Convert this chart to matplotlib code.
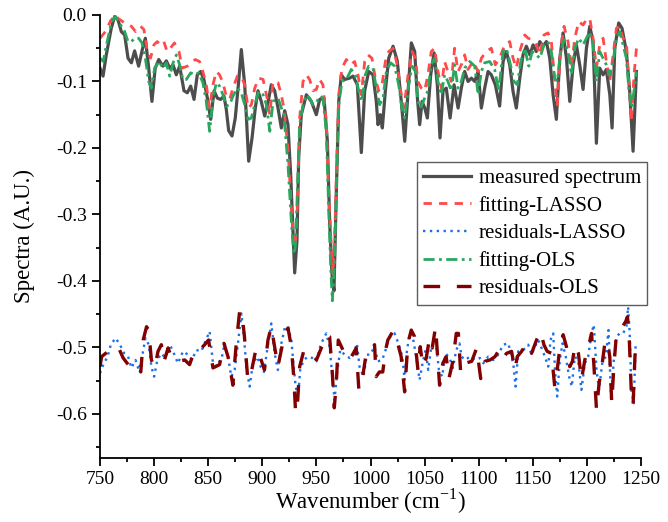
import numpy as np
import matplotlib.pyplot as plt
from matplotlib.ticker import MultipleLocator

plt.rcParams['font.family'] = ['Liberation Serif', 'DejaVu Serif']
plt.rcParams['mathtext.fontset'] = 'custom'
plt.rcParams['mathtext.rm'] = 'Liberation Serif'

# measured spectrum
wn_meas = [750, 752.8, 755.8, 760.4, 763.6, 766.6, 769.7, 772.8, 775.9, 779, 782, 785.7, 789.1, 791.9,
           795, 798, 801, 804.3, 808, 811.3, 814.4, 817.5, 820.5, 823.6, 827.6, 830.7, 833.8, 836.9,
           839.9, 843, 846, 849.2, 852.3, 855.4, 858.4, 861.5, 864.6, 866.7, 868.9, 872, 875, 878.2,
           880.6, 883.7, 887.4, 890.5, 893.5, 896, 899, 902.2, 905.2, 908.3, 911.4, 914.5, 917.6,
           920.7, 923.7, 926.2, 928.4, 929.9, 932, 933.6, 936, 940.7, 945.3, 949.9, 953, 957, 960.1,
           962.3, 964.4, 966.2, 968.4, 970.6, 973, 976.1, 980.7, 983.8, 987.8, 991.5, 994.6, 998.3,
           1002.3, 1005.3, 1006.9, 1009, 1010.9, 1013.7, 1016.8, 1020.8, 1024.7, 1028.4, 1031.6,
           1034.7, 1037.7, 1040.8, 1043.3, 1045.4, 1047.6, 1050.1, 1052.5, 1055.6, 1058.7, 1061.7,
           1064.2, 1067, 1070, 1073.5, 1077.2, 1080.9, 1083.9, 1087, 1090.1, 1093.2, 1096.3, 1099.4,
           1102.4, 1105.5, 1108.6, 1111.6, 1115.3, 1119.3, 1122.5, 1125.5, 1128.6, 1131.7, 1134.7,
           1137.9, 1140.9, 1144, 1147.2, 1150.2, 1153.2, 1156.4, 1159.4, 1162.5, 1165.6, 1168.7,
           1171.7, 1174.9, 1177.9, 1181, 1184.1, 1187.2, 1190.2, 1193.3, 1196.4, 1199.5, 1202.6,
           1205.6, 1207.2, 1208.7, 1211.8, 1214.9, 1217.9, 1221.1, 1223.2, 1225.7, 1229.3, 1232.4,
           1236.4, 1239.5, 1242.6, 1245.7]
measured = [-0.080, -0.092, -0.060, -0.020, -0.002, -0.007, -0.025, -0.030, -0.065, -0.072, -0.054,
            -0.077, -0.052, -0.035, -0.080, -0.130, -0.080, -0.067, -0.077, -0.069, -0.080, -0.075,
            -0.090, -0.077, -0.114, -0.117, -0.107, -0.127, -0.090, -0.085, -0.097, -0.125, -0.157,
            -0.114, -0.125, -0.127, -0.122, -0.142, -0.174, -0.182, -0.155, -0.099, -0.052, -0.105,
            -0.220, -0.185, -0.140, -0.114, -0.130, -0.152, -0.132, -0.105, -0.114, -0.140, -0.170,
            -0.144, -0.165, -0.240, -0.330, -0.388, -0.340, -0.215, -0.150, -0.120, -0.130, -0.150,
            -0.127, -0.125, -0.190, -0.315, -0.390, -0.415, -0.265, -0.130, -0.090, -0.097, -0.095,
            -0.092, -0.105, -0.207, -0.114, -0.085, -0.090, -0.130, -0.165, -0.150, -0.170, -0.114,
            -0.065, -0.047, -0.069, -0.130, -0.190, -0.114, -0.042, -0.055, -0.125, -0.165, -0.130,
            -0.140, -0.155, -0.090, -0.057, -0.105, -0.185, -0.114, -0.110, -0.155, -0.105, -0.140,
            -0.110, -0.085, -0.100, -0.095, -0.100, -0.085, -0.140, -0.110, -0.085, -0.090, -0.105,
            -0.137, -0.070, -0.055, -0.075, -0.115, -0.140, -0.095, -0.060, -0.047, -0.060, -0.045,
            -0.055, -0.040, -0.047, -0.040, -0.065, -0.120, -0.157, -0.065, -0.027, -0.065, -0.130,
            -0.075, -0.045, -0.075, -0.112, -0.050, -0.017, -0.040, -0.115, -0.193, -0.080, -0.090,
            -0.082, -0.120, -0.170, -0.050, -0.012, -0.020, -0.055, -0.115, -0.205, -0.085]

# LASSO fit
wn_lasso = [750, 755, 760, 765, 766.6, 772.8, 779, 782.9, 787.5, 790.6, 793.7, 796.7, 799.8, 802.9,
            806, 809, 812, 815, 818.8, 823, 826, 830.7, 834.3, 838, 842, 845.1, 848.2, 851.3,
            854.4, 857.5, 860.5, 863.6, 866.7, 869.8, 872.9, 876.9, 880.6, 883.7, 886.8, 889.9,
            893, 896.7, 900.7, 903.8, 906.9, 909.9, 914.5, 917.6, 919.9, 923.7, 926.8, 929, 930.5,
            932.3, 934.5, 937.6, 940.7, 943.7, 946.8, 949.9, 953, 956, 959.1, 961.3, 963.8, 965.3,
            966.8, 968.4, 970.6, 973.6, 977.6, 981.6, 985.3, 988.4, 991.5, 994.6, 997.6, 1001.3,
            1004.4, 1007.5, 1010.6, 1013.7, 1016.8, 1020.8, 1024.7, 1027.8, 1030.9, 1034.7, 1038.3,
            1041.4, 1043.8, 1046.9, 1050, 1053, 1056.1, 1059.2, 1062.3, 1065.4, 1068.4, 1071.5,
            1074.6, 1077.7, 1080.8, 1083.9, 1087, 1090, 1094.8, 1099.4, 1102.4, 1107, 1111.6,
            1115.3, 1119.3, 1123.9, 1128.6, 1131.7, 1134.7, 1137.9, 1142.5, 1145.6, 1149.3, 1153.3,
            1156.4, 1160.3, 1164, 1167.1, 1170.2, 1172.6, 1175.7, 1178.8, 1182.5, 1185.6, 1188.7,
            1192.4, 1196.4, 1199.5, 1202.6, 1205.6, 1208.7, 1211.8, 1214.9, 1217.9, 1221.1, 1224.1,
            1227.2, 1230.3, 1233.3, 1236.4, 1238.6, 1241, 1243.5, 1245.7]
lasso_fit = [-0.035, -0.025, -0.008, 0.000, -0.005, -0.012, -0.017, -0.025, -0.017, -0.022, -0.055,
             -0.065, -0.045, -0.040, -0.045, -0.040, -0.055, -0.050, -0.042, -0.055, -0.080, -0.077,
             -0.072, -0.067, -0.070, -0.085, -0.105, -0.140, -0.105, -0.085, -0.090, -0.102, -0.122,
             -0.127, -0.110, -0.092, -0.092, -0.105, -0.140, -0.135, -0.110, -0.095, -0.097, -0.120,
             -0.150, -0.100, -0.102, -0.120, -0.140, -0.200, -0.290, -0.340, -0.350, -0.290, -0.155,
             -0.100, -0.090, -0.097, -0.114, -0.112, -0.097, -0.105, -0.160, -0.265, -0.350, -0.390,
             -0.340, -0.240, -0.120, -0.080, -0.067, -0.075, -0.070, -0.090, -0.120, -0.070, -0.060,
             -0.065, -0.095, -0.114, -0.105, -0.070, -0.055, -0.050, -0.075, -0.114, -0.140, -0.090,
             -0.055, -0.065, -0.100, -0.110, -0.114, -0.090, -0.055, -0.050, -0.085, -0.110, -0.070,
             -0.085, -0.100, -0.050, -0.085, -0.075, -0.060, -0.082, -0.070, -0.085, -0.065, -0.055,
             -0.050, -0.075, -0.065, -0.045, -0.040, -0.065, -0.080, -0.055, -0.030, -0.035, -0.037,
             -0.045, -0.060, -0.030, -0.027, -0.040, -0.100, -0.135, -0.050, -0.017, -0.040, -0.080,
             -0.035, -0.010, -0.015, -0.007, -0.005, -0.035, -0.080, -0.045, -0.035, -0.070, -0.100,
             -0.060, -0.020, -0.017, -0.035, -0.040, -0.100, -0.160, -0.090, -0.050]

# OLS fit
wn_ols = [750, 753, 756, 760.4, 764, 768, 772.8, 775.9, 779, 782, 785.7, 788.8, 791.9, 795, 797.4,
          800.5, 804.3, 808.3, 811.3, 814.4, 817.5, 820.6, 823.6, 826.6, 829.8, 833.8, 837.5, 841.2,
          845.1, 848.2, 851.3, 854.4, 857.5, 860.5, 863.6, 866.7, 869.8, 872.9, 876.9, 880.6, 883.7,
          886.8, 889.9, 893, 896.7, 900.7, 903.8, 906.9, 909.9, 914.5, 917.6, 919.9, 923.7, 926.8,
          929, 930.5, 932.3, 934.5, 937.6, 940.7, 943.7, 946.8, 949.9, 953, 956, 959.1, 961.3, 963.2,
          964.7, 966.8, 968.7, 970.6, 973.6, 977.6, 982.2, 985.9, 989, 992.1, 995.2, 998.2, 1002.3,
          1005.3, 1008.4, 1011.5, 1014.6, 1018.6, 1022.3, 1026, 1029, 1031.6, 1035.3, 1038.3, 1041.4,
          1043.8, 1046.3, 1050, 1053, 1056.1, 1059.2, 1062.3, 1065.4, 1068.4, 1071.5, 1074.6, 1077.7,
          1080.8, 1083.9, 1087, 1091.7, 1096.3, 1099.4, 1102.4, 1105.5, 1110.1, 1114.7, 1118.4,
          1122.5, 1125.5, 1128.6, 1132.6, 1135.7, 1138.8, 1142.5, 1146.2, 1149.3, 1153.3, 1156.4,
          1160.3, 1164, 1167.1, 1170.2, 1172.6, 1175.7, 1178.8, 1182.5, 1185.6, 1188.7, 1192.4,
          1196.4, 1199.5, 1202.6, 1205.6, 1208.7, 1211.8, 1214.9, 1217.9, 1221.1, 1224.1, 1227.2,
          1230.3, 1233.3, 1236.4, 1238.6, 1241, 1243.5, 1245.7]
ols_fit = [-0.065, -0.070, -0.045, -0.012, -0.002, -0.012, -0.025, -0.040, -0.040, -0.035, -0.035,
           -0.042, -0.065, -0.100, -0.110, -0.080, -0.070, -0.080, -0.072, -0.092, -0.072, -0.060,
           -0.075, -0.097, -0.097, -0.087, -0.090, -0.087, -0.102, -0.130, -0.175, -0.125, -0.102,
           -0.107, -0.120, -0.137, -0.135, -0.122, -0.110, -0.117, -0.135, -0.157, -0.155, -0.135,
           -0.115, -0.120, -0.135, -0.175, -0.130, -0.125, -0.140, -0.150, -0.225, -0.310, -0.360,
           -0.350, -0.270, -0.165, -0.135, -0.120, -0.125, -0.135, -0.132, -0.122, -0.125, -0.175,
           -0.290, -0.380, -0.430, -0.370, -0.240, -0.135, -0.100, -0.097, -0.082, -0.090, -0.114,
           -0.130, -0.090, -0.077, -0.080, -0.110, -0.135, -0.125, -0.085, -0.072, -0.077, -0.105,
           -0.140, -0.155, -0.105, -0.077, -0.085, -0.130, -0.140, -0.125, -0.114, -0.075, -0.065,
           -0.100, -0.120, -0.090, -0.100, -0.114, -0.075, -0.110, -0.100, -0.080, -0.070, -0.077,
           -0.120, -0.085, -0.072, -0.070, -0.082, -0.114, -0.055, -0.050, -0.070, -0.100, -0.105,
           -0.070, -0.050, -0.077, -0.055, -0.060, -0.065, -0.045, -0.040, -0.055, -0.095, -0.100,
           -0.055, -0.037, -0.055, -0.090, -0.050, -0.035, -0.045, -0.035, -0.025, -0.045, -0.100,
           -0.055, -0.065, -0.075, -0.090, -0.070, -0.035, -0.025, -0.045, -0.065, -0.110, -0.140,
           -0.114, -0.085]

# LASSO residuals (offset by -0.5)
wn_res_lasso = [750, 753, 757, 760, 764.4, 768.4, 772.4, 776, 779, 782.8, 785.8, 788.9, 792, 795,
                797.5, 800, 803, 806.7, 810.4, 814.4, 817.5, 822, 826.7, 831.3, 835, 839, 843.6,
                846.7, 851.3, 854.4, 858.4, 862.7, 865.2, 868.3, 871.3, 874.4, 877.5, 880.6, 883,
                885.5, 888.3, 891.3, 895.3, 898.4, 901.5, 905.2, 908.3, 911.4, 914.4, 917.6, 920.7,
                923.7, 926.8, 929, 930.8, 933, 935, 938.2, 942.2, 946.2, 950, 953, 956, 959.1,
                962.2, 964.7, 966.8, 969, 972, 976, 980.6, 984.3, 987.4, 989.8, 993.5, 996.6,
                999.7, 1003.7, 1006.8, 1010.8, 1013.9, 1017, 1022.2, 1026.2, 1029.3, 1031.5,
                1033.6, 1036.1, 1039.2, 1042.2, 1045.3, 1048.4, 1050.9, 1053.3, 1056.1, 1060.1,
                1063.2, 1066.2, 1069.3, 1073, 1076.1, 1079.2, 1082.2, 1084.2, 1087.3, 1091.9,
                1096.5, 1101.1, 1104.2, 1108.8, 1113.5, 1118, 1122.6, 1127.3, 1131.9, 1134,
                1136.5, 1141.1, 1145.7, 1148.8, 1151.9, 1154.9, 1158, 1161.1, 1164.2, 1166.3,
                1168.8, 1170.6, 1172.5, 1174.9, 1177.4, 1180.4, 1183.5, 1186, 1188.7, 1191.8,
                1194.9, 1198, 1201.1, 1204.2, 1206.3, 1208.8, 1211.2, 1214.3, 1217.4, 1219.9,
                1222.3, 1224.8, 1227.2, 1230.3, 1233.4, 1236.5, 1238, 1239.5, 1241, 1243.2, 1245]
res_lasso = [-0.539, -0.526, -0.514, -0.496, -0.486, -0.496, -0.509, -0.514, -0.531, -0.519,
             -0.534, -0.514, -0.486, -0.496, -0.529, -0.544, -0.519, -0.509, -0.516, -0.496,
             -0.506, -0.524, -0.506, -0.511, -0.519, -0.504, -0.506, -0.494, -0.476, -0.524,
             -0.529, -0.514, -0.494, -0.514, -0.544, -0.534, -0.494, -0.449, -0.484, -0.534,
             -0.559, -0.524, -0.514, -0.529, -0.537, -0.496, -0.464, -0.509, -0.534, -0.494,
             -0.471, -0.468, -0.489, -0.529, -0.559, -0.574, -0.534, -0.519, -0.514, -0.516,
             -0.521, -0.501, -0.489, -0.479, -0.499, -0.544, -0.579, -0.539, -0.504, -0.511,
             -0.516, -0.511, -0.494, -0.529, -0.544, -0.511, -0.511, -0.499, -0.521, -0.519,
             -0.504, -0.486, -0.479, -0.496, -0.514, -0.549, -0.506, -0.479, -0.486, -0.514,
             -0.549, -0.521, -0.504, -0.534, -0.499, -0.489, -0.534, -0.544, -0.509, -0.516,
             -0.531, -0.504, -0.494, -0.514, -0.519, -0.514, -0.519, -0.516, -0.524, -0.514,
             -0.519, -0.511, -0.496, -0.494, -0.524, -0.559, -0.506, -0.504, -0.496, -0.511,
             -0.499, -0.489, -0.501, -0.514, -0.529, -0.489, -0.479, -0.539, -0.574, -0.519,
             -0.494, -0.514, -0.544, -0.559, -0.514, -0.519, -0.564, -0.524, -0.514, -0.479,
             -0.466, -0.534, -0.564, -0.521, -0.514, -0.474, -0.579, -0.519, -0.484, -0.479,
             -0.479, -0.469, -0.439, -0.479, -0.564, -0.584, -0.494]

# OLS residuals (offset by -0.5)
wn_res_ols = [750, 751.5, 759, 766.7, 771.4, 777.5, 783.6, 787.7, 789.9, 793, 795, 797.5, 800.6,
              803.6, 806.7, 809.2, 812.9, 816, 822, 828.3, 832.8, 837.5, 842, 846.7, 850.3, 854.4,
              860.5, 864.5, 868.3, 872.8, 875.9, 879, 881, 883.5, 886.6, 889.6, 894.3, 898.3, 902,
              905.2, 908.3, 911.4, 914.4, 917.6, 920.7, 923.7, 926.8, 929, 930.8, 932.7, 934.5,
              938.2, 943.7, 950, 954.5, 959.1, 962.2, 964.7, 966.5, 968.4, 970.2, 974.5, 980.6,
              986.8, 989.2, 992.3, 996, 1000.6, 1003.7, 1005.2, 1008.2, 1011.3, 1013.9, 1016,
              1020.6, 1024.3, 1028.3, 1031.5, 1034.5, 1037.6, 1040.7, 1043.8, 1045.9, 1048.4,
              1051.5, 1054.5, 1057, 1060.1, 1063.8, 1066.8, 1069.9, 1072.4, 1076.1, 1079.2,
              1081.2, 1083.3, 1087.3, 1093.5, 1098.1, 1101.8, 1105.8, 1110.4, 1115, 1118, 1121.1,
              1125.7, 1130.3, 1133.4, 1135.6, 1139.6, 1144.2, 1148.8, 1153.4, 1157.1, 1160.2,
              1163.2, 1167.2, 1170.2, 1172.5, 1174.9, 1178, 1181, 1184.1, 1186.6, 1189, 1192.1,
              1194.9, 1198, 1201.1, 1204.2, 1206.3, 1208.8, 1211.2, 1213.7, 1216.5, 1218.6,
              1221.1, 1222.9, 1224.8, 1227.2, 1229.7, 1232.8, 1235.8, 1237.4, 1238.9, 1241,
              1242.6, 1244.8]
res_ols = [-0.529, -0.514, -0.504, -0.499, -0.516, -0.529, -0.526, -0.537, -0.489, -0.469, -0.474,
           -0.519, -0.531, -0.506, -0.496, -0.521, -0.501, -0.514, -0.521, -0.519, -0.526, -0.504,
           -0.504, -0.496, -0.489, -0.531, -0.526, -0.494, -0.514, -0.557, -0.494, -0.446, -0.446,
           -0.484, -0.549, -0.539, -0.501, -0.516, -0.534, -0.489, -0.469, -0.499, -0.529, -0.504,
           -0.479, -0.471, -0.499, -0.544, -0.599, -0.579, -0.529, -0.506, -0.504, -0.519, -0.501,
           -0.481, -0.484, -0.539, -0.591, -0.554, -0.489, -0.504, -0.519, -0.501, -0.564, -0.549,
           -0.509, -0.506, -0.496, -0.544, -0.537, -0.537, -0.504, -0.489, -0.476, -0.489, -0.514,
           -0.567, -0.494, -0.474, -0.484, -0.534, -0.499, -0.529, -0.516, -0.486, -0.501, -0.469,
           -0.557, -0.524, -0.514, -0.547, -0.521, -0.479, -0.479, -0.539, -0.524, -0.521, -0.501,
           -0.547, -0.521, -0.519, -0.514, -0.506, -0.519, -0.509, -0.506, -0.534, -0.514, -0.506,
           -0.494, -0.509, -0.489, -0.476, -0.496, -0.506, -0.509, -0.559, -0.534, -0.501, -0.481,
           -0.499, -0.529, -0.521, -0.496, -0.509, -0.549, -0.519, -0.501, -0.479, -0.524, -0.594,
           -0.554, -0.529, -0.494, -0.489, -0.514, -0.584, -0.529, -0.481, -0.476, -0.469, -0.461,
           -0.454, -0.479, -0.569, -0.587, -0.494]

fig = plt.figure(figsize=(6.68, 5.22), dpi=100)
ax = fig.add_axes([0.1497, 0.1232, 0.81, 0.8481])

ax.plot(wn_meas, measured, color='#4d4d4d', lw=2.3, label='measured spectrum')
ax.plot(wn_lasso, lasso_fit, color='#ff4a4a', lw=2.0, dashes=(3, 2.6), label='fitting-LASSO')
ax.plot(wn_res_lasso, res_lasso, color='#1c6fe6', lw=1.7, dashes=(1, 1.9), label='residuals-LASSO')
ax.plot(wn_ols, ols_fit, color='#2aa65e', lw=2.0, dashes=(4, 1.6, 1, 1.6), label='fitting-OLS')
ax.plot(wn_res_ols, res_ols, color='#820000', lw=2.4, dashes=(5, 5), label='residuals-OLS')

ax.set_xlim(750, 1250)
ax.set_ylim(-0.666, 0.0)
ax.xaxis.set_major_locator(MultipleLocator(50))
ax.xaxis.set_minor_locator(MultipleLocator(25))
ax.yaxis.set_minor_locator(MultipleLocator(0.05))
ax.set_yticks(np.arange(-0.6, 0.01, 0.1))
ax.set_yticklabels(['-0.6', '-0.5', '-0.4', '-0.3', '-0.2', '-0.1', '0.0'])

ax.spines['top'].set_visible(False)
ax.spines['right'].set_visible(False)
for s in ('left', 'bottom'):
    ax.spines[s].set_linewidth(1.3)
ax.tick_params(which='major', direction='out', length=6, width=1.3, labelsize=14)
ax.tick_params(which='minor', direction='out', length=3, width=1.3)

ax.set_xlabel('Wavenumber (cm$^{-1}$)', fontsize=16.5, labelpad=-1)
ax.set_ylabel('Spectra (A.U.)', fontsize=16.5, labelpad=15)

leg = ax.legend(loc='upper left', bbox_to_anchor=(0.586, 0.668), fontsize=15, frameon=True,
                fancybox=False, edgecolor='#333333', handlelength=2.3, handletextpad=0.35,
                borderpad=0.3, labelspacing=0.38, borderaxespad=0)
leg.get_frame().set_linewidth(1.0)

plt.savefig('out.png', dpi=100)
